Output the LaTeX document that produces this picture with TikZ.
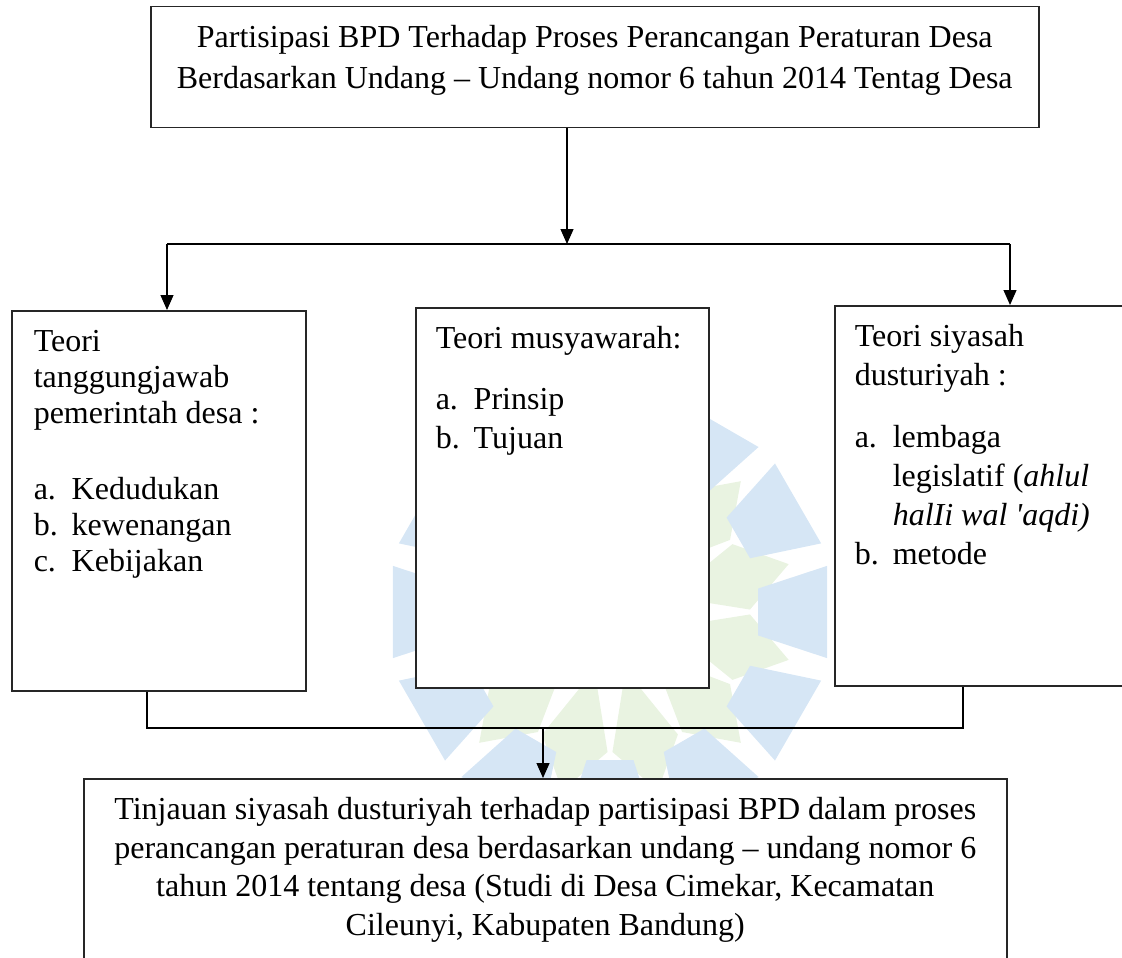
\documentclass[tikz,border=0pt]{standalone}
\usepackage{fontspec}
\setmainfont{Liberation Serif}
\usetikzlibrary{arrows.meta}

\definecolor{logobiru}{RGB}{214,230,245}
\definecolor{logohijau}{RGB}{233,243,225}
\newcommand{\butir}[2]{\par\hangindent=19pt\hangafter=1\noindent\makebox[19pt][l]{#1}#2}

\tikzset{
    kotak/.style={draw=black!85, line width=0.75pt, fill=white, anchor=north west, inner ysep=9.5pt},
    garis/.style={line width=0.6pt},
    panah/.style={garis, -{Triangle[length=7.5pt,width=6.5pt]}},
}

\begin{document}
\begin{tikzpicture}[x=0.5pt, y=-0.5pt]
        \useasboundingbox (0,0) rectangle (1122,957);
        \clip (0,0) rectangle (1122,957);

        % logo di latar
        \begin{scope}[shift={(610,612)}]
            \foreach \s in {15,45,...,345}
                \fill[logohijau] (\s:60) -- (\s-14:140) -- (\s:185) -- (\s+14:140) -- cycle;
            \foreach \s in {0,30,...,330}
                \fill[logobiru] (\s-9:150) -- (\s-12:222) -- (\s+12:222) -- (\s+9:150) -- cycle;
        \end{scope}

        \node[kotak, inner xsep=0pt] (judul) at (150,6)
            {\parbox[t][41.5pt][t]{444pt}{\fontsize{16}{20.5}\selectfont\centering
            Partisipasi BPD Terhadap Proses Perancangan Peraturan Desa\\
            Berdasarkan Undang – Undang nomor 6 tahun 2014 Tentag Desa}};

        \node[kotak, inner xsep=11pt, inner ysep=10pt] (teori1) at (11,310)
            {\parbox[t][170pt][t]{125pt}{\fontsize{16}{18}\selectfont\raggedright
            Teori\\ tanggungjawab\\ pemerintah desa :\par\vspace{20pt}
            \butir{a.}{Kedudukan}\butir{b.}{kewenangan}\butir{c.}{Kebijakan}}};

        \node[kotak, inner xsep=10pt] (teori2) at (415,307)
            {\parbox[t][171pt][t]{126.5pt}{\fontsize{16}{19.5}\selectfont\raggedright
            Teori musyawarah:\par\vspace{11pt}
            \butir{a.}{Prinsip}\butir{b.}{Tujuan}}};

        \node[kotak, inner xsep=10pt] (teori3) at (834,305)
            {\parbox[t][171pt][t]{140pt}{\fontsize{16}{19.5}\selectfont\raggedright
            Teori siyasah\\ dusturiyah :\par\vspace{11.5pt}
            \butir{a.}{lembaga\newline legislatif (\textit{ahlul}\newline \textit{halIi wal \textquotesingle aqdi)}}%
            \butir{b.}{metode}}};

        \node[kotak, inner xsep=0pt] (tinjauan) at (83,778)
            {\parbox[t][120pt][t]{461.5pt}{\fontsize{16}{19.25}\selectfont\centering
            Tinjauan siyasah dusturiyah terhadap partisipasi BPD dalam proses\\
            perancangan peraturan desa berdasarkan undang – undang nomor 6\\
            tahun 2014 tentang desa (Studi di Desa Cimekar, Kecamatan\\
            Cileunyi, Kabupaten Bandung)}};

        % percabangan atas
        \coordinate (cabang) at (567,244);
        \coordinate (cabangkiri) at (167,244);
        \coordinate (cabangkanan) at (1010,244);
        \draw[garis] (cabangkiri) -- (cabangkanan);
        \draw[panah] (judul.south -| cabang) -- (cabang);
        \draw[panah] (cabangkiri) -- (cabangkiri |- teori1.north);
        \draw[panah] (cabangkanan) -- (cabangkanan |- teori3.north);

        % penggabungan bawah
        \coordinate (gabung) at (543,728);
        \coordinate (gabungkiri) at (147,728);
        \coordinate (gabungkanan) at (963,728);
        \draw[garis] (teori1.south -| gabungkiri) -- (gabungkiri) -- (gabungkanan) -- (teori3.south -| gabungkanan);
        \draw[panah] (gabung) -- (gabung |- tinjauan.north);

    \end{tikzpicture}
\end{document}
